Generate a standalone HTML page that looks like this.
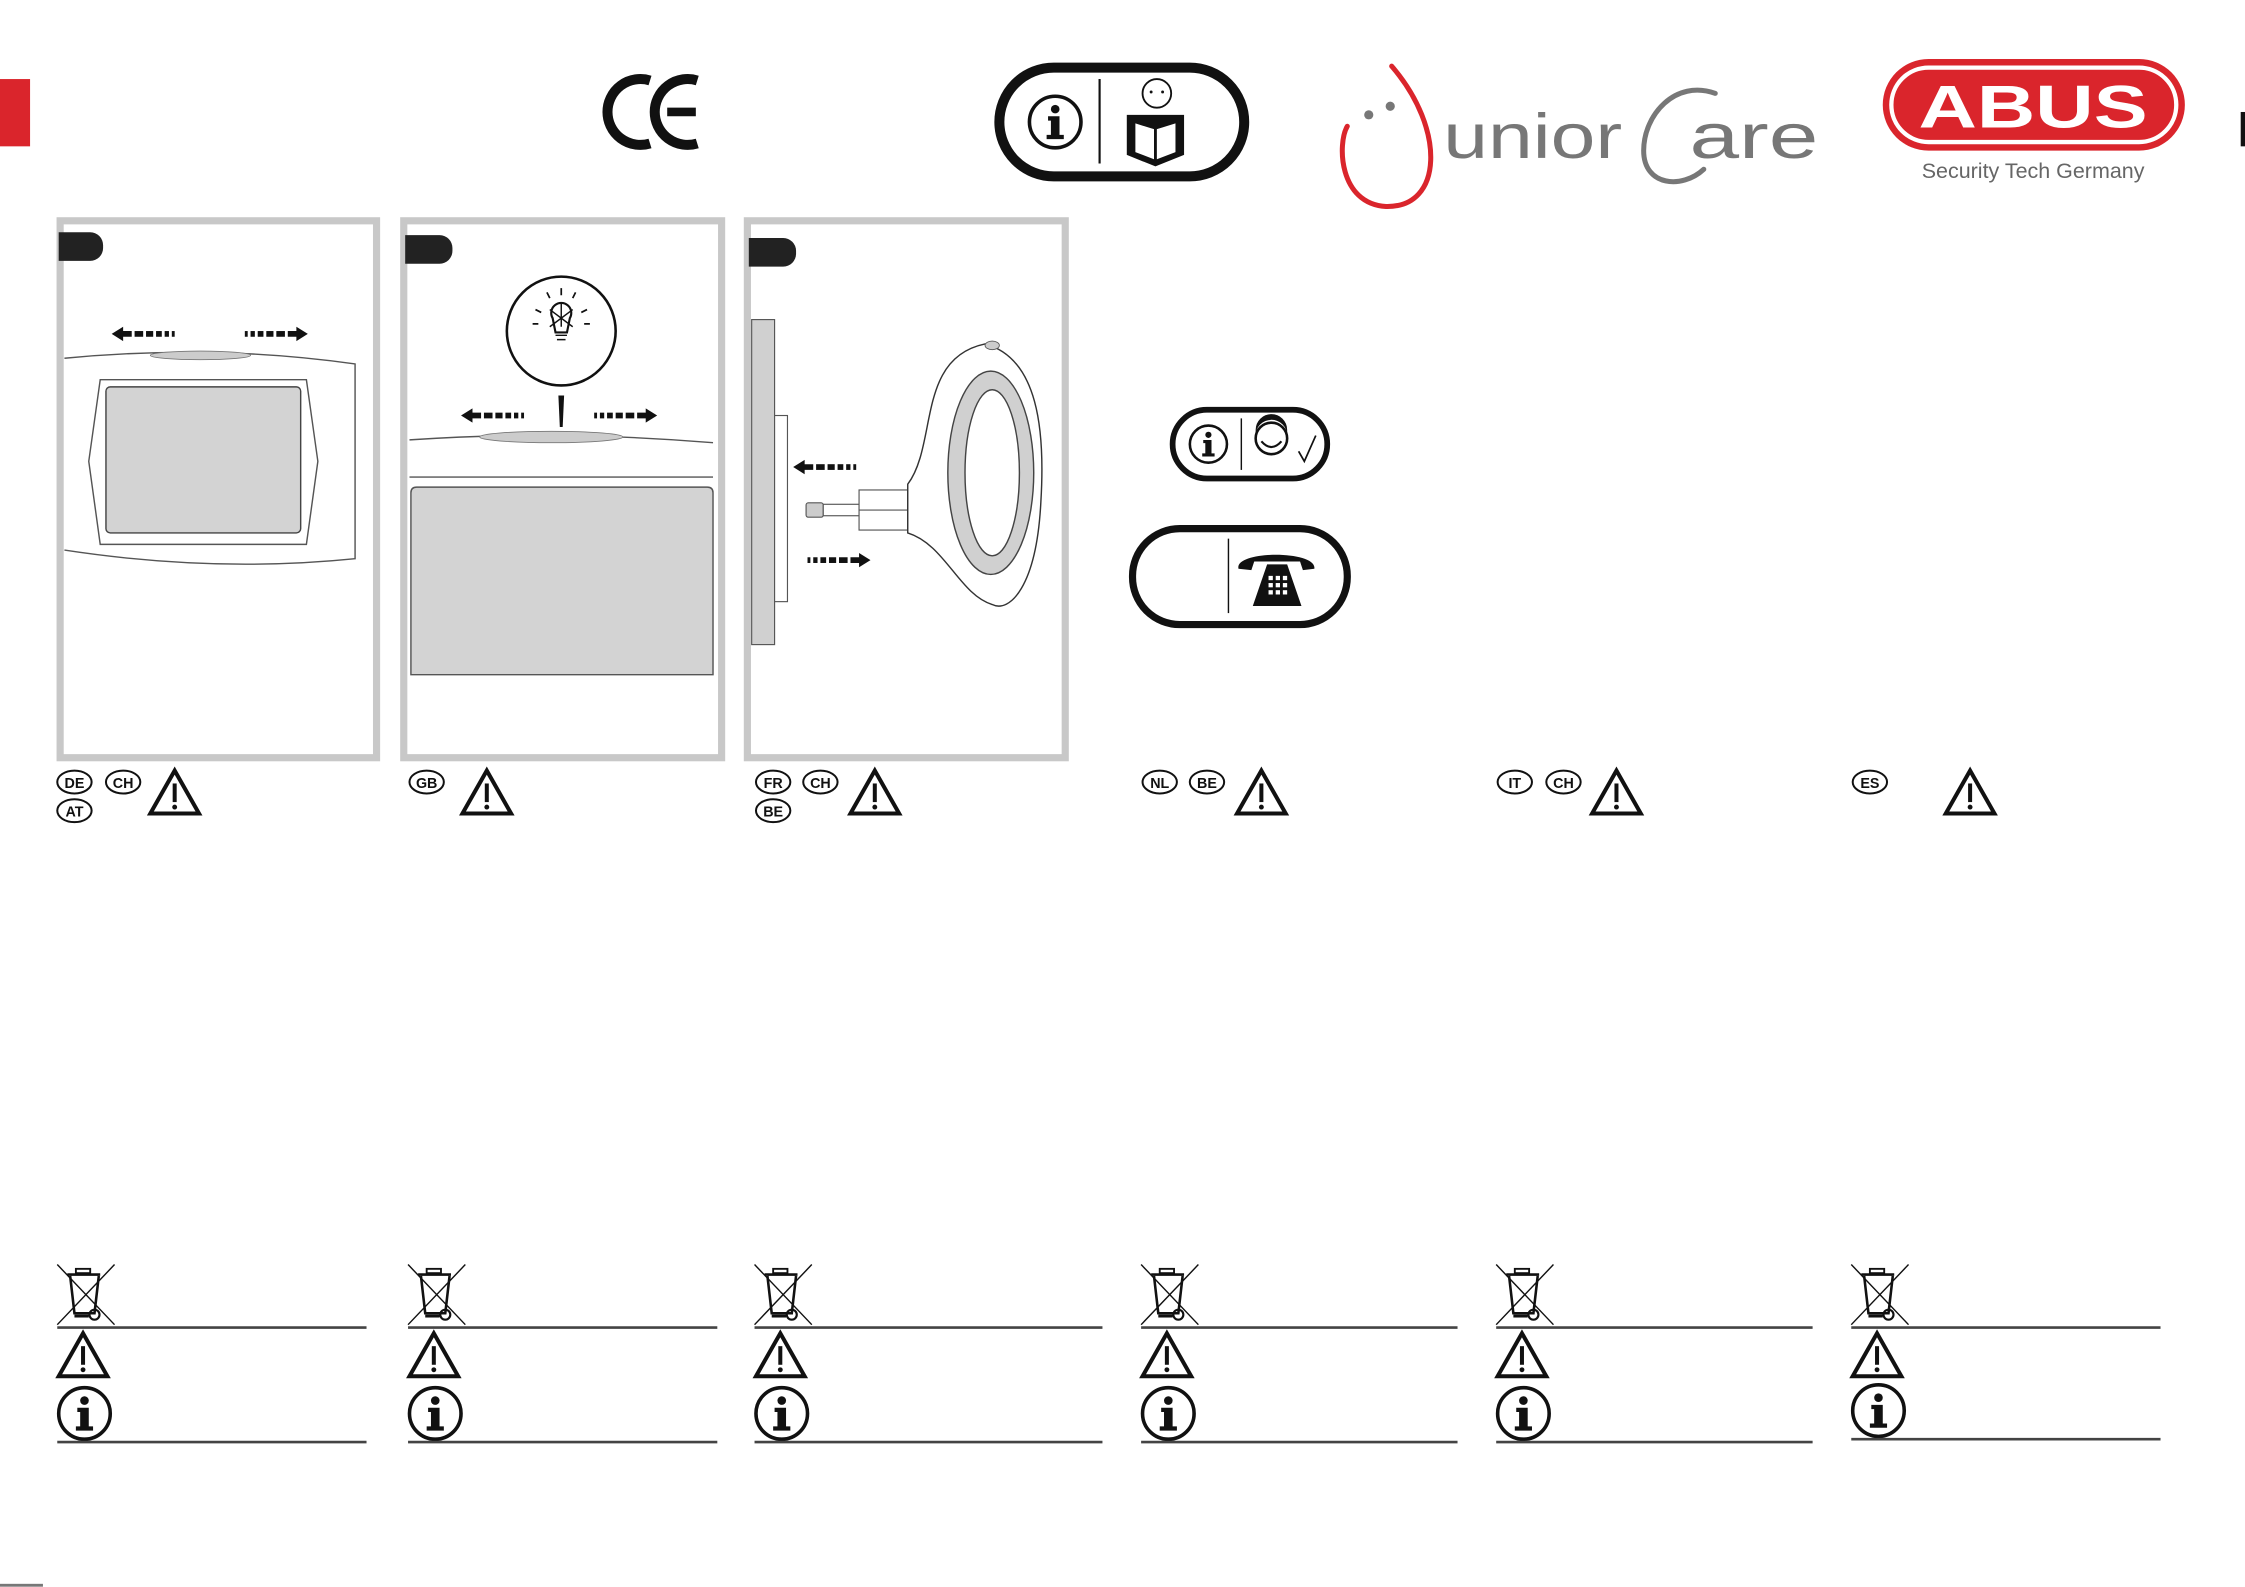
<!DOCTYPE html>
<html><head><meta charset="utf-8"><style>
html,body{margin:0;padding:0;background:#fff;}
svg{display:block;}
text{font-family:"Liberation Sans",sans-serif;}
</style></head><body>
<svg width="2245" height="1587" viewBox="0 0 1568 1108" xmlns="http://www.w3.org/2000/svg">
<defs>
<g id="warn"><path d="M0,30 L17,0 L34,30 Z" fill="none" stroke="#111" stroke-width="2.8" stroke-linejoin="miter"/><rect x="15.6" y="9" width="2.8" height="13" fill="#111"/><circle cx="17" cy="25.5" r="1.7" fill="#111"/></g>
<g id="info"><circle cx="0" cy="0" r="18" fill="none" stroke="#111" stroke-width="2.5"/><circle cx="0" cy="-9" r="3" fill="#111"/><path d="M-5,-4 L3,-4 L3,9 L6,9 L6,12 L-6,12 L-6,9 L-3,9 L-3,-1 L-5,-1 Z" fill="#111"/></g>
<g id="bin" fill="none" stroke="#111"><line x1="0" y1="0" x2="40" y2="42" stroke-width="1"/><line x1="40" y1="0" x2="0" y2="42" stroke-width="1"/><rect x="13" y="3" width="10" height="3" stroke-width="1.3"/><path d="M7,7 L30,7 M9,8 L12,34 L26,34 L29,8" stroke-width="1.8"/><circle cx="26" cy="35" r="3.5" stroke-width="1.5"/><line x1="12" y1="36" x2="22" y2="36" stroke-width="2"/></g>
<g id="arrL"><path d="M0,0 L8,-5 L8,-2 L14,-2 L14,2 L8,2 L8,5 Z" fill="#111"/><rect x="16" y="-2" width="6" height="4" fill="#111"/><rect x="24" y="-2" width="5" height="4" fill="#111"/><rect x="31" y="-2" width="4" height="4" fill="#111"/><rect x="37" y="-2" width="3" height="4" fill="#111"/><rect x="42" y="-2" width="2" height="4" fill="#111"/></g>
</defs>

<rect x="0" y="55" width="21" height="47" fill="#da252c"/>
<rect x="1565" y="78" width="3" height="24" fill="#111"/>

<path d="M454,56 A23,23 0 1,0 454,100" fill="none" stroke="#111" stroke-width="7"/>
<path d="M487,56 A23,23 0 1,0 487,100" fill="none" stroke="#111" stroke-width="7"/>
<line x1="466" y1="78" x2="486" y2="78" stroke="#111" stroke-width="6"/>

<rect x="698" y="47" width="171" height="76" rx="38" fill="none" stroke="#111" stroke-width="7"/>
<line x1="768" y1="55" x2="768" y2="114" stroke="#111" stroke-width="1.5"/>
<use href="#info" transform="translate(737,85)"/>
<circle cx="808" cy="65" r="10" fill="none" stroke="#111" stroke-width="1.3"/>
<circle cx="804" cy="64" r="1" fill="#111"/><circle cx="812" cy="64" r="1" fill="#111"/>
<path d="M787,80 L827,80 L827,108 L807,116 L787,108 Z" fill="#111"/>
<path d="M793,86 L806,90 L806,111 L793,106 Z M821,86 L808,90 L808,111 L821,106 Z" fill="#fff"/>

<path d="M972,46 C1010,90 1008,145 968,144 C935,142 934,100 941,88" fill="none" stroke="#da252c" stroke-width="3.5" stroke-linecap="round"/>
<circle cx="956" cy="80" r="3.2" fill="#777"/><circle cx="971" cy="74" r="3.2" fill="#777"/>
<text x="1008" y="110" font-size="44" fill="#777" textLength="125" lengthAdjust="spacingAndGlyphs">unior</text>
<path d="M1198,65 C1170,55 1148,80 1148,105 C1148,130 1175,132 1190,118" fill="none" stroke="#777" stroke-width="3.5" stroke-linecap="round"/>
<text x="1180" y="110" font-size="44" fill="#777" textLength="90" lengthAdjust="spacingAndGlyphs">are</text>

<rect x="1315" y="41" width="211" height="64" rx="32" fill="#da252c"/>
<rect x="1321" y="47" width="199" height="52" rx="26" fill="none" stroke="#fff" stroke-width="3"/>
<text x="1420" y="89" font-size="42" font-weight="bold" fill="#fff" text-anchor="middle" font-family="Liberation Serif,serif" textLength="160" lengthAdjust="spacingAndGlyphs">ABUS</text>
<text x="1420" y="124" font-size="15" fill="#666" text-anchor="middle">Security Tech Germany</text>

<g fill="none" stroke="#c8c8c8" stroke-width="5">
<rect x="42" y="154" width="221" height="375"/>
<rect x="282" y="154" width="222" height="375"/>
<rect x="522" y="154" width="222" height="375"/>
</g>
<path d="M41,162 L63,162 A9,9 0 0 1 72,171 L72,173 A9,9 0 0 1 63,182 L41,182 Z" fill="#222"/>
<path d="M283,164 L307,164 A9,9 0 0 1 316,173 L316,175 A9,9 0 0 1 307,184 L283,184 Z" fill="#222"/>
<path d="M523,166 L547,166 A9,9 0 0 1 556,175 L556,177 A9,9 0 0 1 547,186 L523,186 Z" fill="#222"/>

<use href="#arrL" transform="translate(78,233)"/>
<use href="#arrL" transform="translate(215,233) scale(-1,1)"/>
<path d="M45,250 Q150,240 248,254 L248,390 Q150,400 45,384" fill="none" stroke="#555" stroke-width="1"/>
<ellipse cx="140" cy="248" rx="35" ry="3" fill="#ccc" stroke="#777" stroke-width="0.6"/>
<path d="M70,265 L214,265 L222,322 L214,380 L70,380 L62,322 Z" fill="#fff" stroke="#555" stroke-width="1"/>
<rect x="74" y="270" width="136" height="102" rx="3" fill="#d3d3d3" stroke="#444" stroke-width="1"/>

<circle cx="392" cy="231" r="38" fill="#fff" stroke="#111" stroke-width="1.8"/>
<path d="M386,222 A7,7 0 1 1 398,222 L396,232 L388,232 Z" fill="none" stroke="#111" stroke-width="1.5"/>
<path d="M388,234 L396,234 M389,237 L395,237 M384,216 L400,228 M400,216 L384,228 M392,212 L392,228" stroke="#111" stroke-width="1"/>
<path d="M378,218 L374,216 M406,218 L410,216 M384,208 L382,204 M400,208 L402,204 M392,206 L392,201 M376,226 L372,226 M408,226 L412,226" stroke="#111" stroke-width="1.2"/>
<path d="M390,276 L394,276 L393,298 L391,298 Z" fill="#111"/>
<use href="#arrL" transform="translate(322,290)"/>
<use href="#arrL" transform="translate(459,290) scale(-1,1)"/>
<path d="M286,307 Q390,300 498,309" fill="none" stroke="#555" stroke-width="1"/>
<ellipse cx="385" cy="305" rx="50" ry="4" fill="#ccc" stroke="#777" stroke-width="0.6"/>
<line x1="286" y1="333" x2="498" y2="333" stroke="#555" stroke-width="1"/>
<path d="M287,471 L287,344 Q287,340 291,340 L494,340 Q498,340 498,344 L498,471 Z" fill="#d3d3d3" stroke="#555" stroke-width="1"/>

<rect x="525" y="223" width="16" height="227" fill="#d0d0d0" stroke="#555" stroke-width="0.8"/>
<rect x="541" y="290" width="9" height="130" fill="#fff" stroke="#555" stroke-width="0.8"/>
<use href="#arrL" transform="translate(554,326)"/>
<use href="#arrL" transform="translate(608,391) scale(-1,1)"/>
<rect x="563" y="351" width="12" height="10" rx="1.5" fill="#ccc" stroke="#555" stroke-width="0.8"/>
<rect x="575" y="352" width="25" height="8" fill="#fff" stroke="#555" stroke-width="0.8"/>
<rect x="600" y="342" width="34" height="28" fill="#fff" stroke="#555" stroke-width="0.8"/>
<line x1="600" y1="356" x2="634" y2="356" stroke="#555" stroke-width="0.8"/>
<path d="M634,338 C655,310 640,250 688,240 C725,250 730,300 727,350 C724,410 705,428 693,422 C670,415 660,380 634,372 Z" fill="#fff" stroke="#333" stroke-width="1"/>
<ellipse cx="693" cy="241" rx="5" ry="3" fill="#ccc" stroke="#555" stroke-width="0.6"/>
<ellipse cx="692" cy="330" rx="30" ry="71" fill="#d0d0d0" stroke="#444" stroke-width="1"/>
<ellipse cx="693" cy="330" rx="19" ry="58" fill="#fff" stroke="#444" stroke-width="1"/>

<rect x="819" y="286" width="108" height="48" rx="24" fill="none" stroke="#111" stroke-width="4"/>
<line x1="867" y1="292" x2="867" y2="328" stroke="#111" stroke-width="1"/>
<use href="#info" transform="translate(844,310) scale(0.72)"/>
<circle cx="888" cy="306" r="11" fill="none" stroke="#111" stroke-width="1.8"/>
<path d="M877,304 A11,11 0 0 1 899,304 L899,300 A11,11 0 0 0 877,300 Z" fill="#111"/>
<path d="M881,308 Q888,316 895,308" fill="none" stroke="#111" stroke-width="1.5"/>
<path d="M907,315 L911,322 L919,304" fill="none" stroke="#111" stroke-width="1.2"/>
<rect x="791" y="369" width="150" height="67" rx="33" fill="none" stroke="#111" stroke-width="5"/>
<line x1="858" y1="376" x2="858" y2="428" stroke="#111" stroke-width="1"/>
<path d="M865,397 C862,384 920,384 918,397 L910,398 L908,392 L876,392 L874,398 Z" fill="#111"/>
<path d="M885,394 L899,394 L909,423 L875,423 Z" fill="#111"/>
<g fill="#fff"><rect x="886" y="402" width="3" height="3"/><rect x="891" y="402" width="3" height="3"/><rect x="896" y="402" width="3" height="3"/><rect x="886" y="407" width="3" height="3"/><rect x="891" y="407" width="3" height="3"/><rect x="896" y="407" width="3" height="3"/><rect x="886" y="412" width="3" height="3"/><rect x="891" y="412" width="3" height="3"/><rect x="896" y="412" width="3" height="3"/></g>

<g font-size="10" font-weight="bold" text-anchor="middle" fill="#111">
<g fill="none" stroke="#111" stroke-width="1.4">
<ellipse cx="52" cy="546" rx="12" ry="8"/><ellipse cx="86" cy="546" rx="12" ry="8"/><ellipse cx="52" cy="566" rx="12" ry="8"/>
<ellipse cx="298" cy="546" rx="12" ry="8"/>
<ellipse cx="540" cy="546" rx="12" ry="8"/><ellipse cx="573" cy="546" rx="12" ry="8"/><ellipse cx="540" cy="566" rx="12" ry="8"/>
<ellipse cx="810" cy="546" rx="12" ry="8"/><ellipse cx="843" cy="546" rx="12" ry="8"/>
<ellipse cx="1058" cy="546" rx="12" ry="8"/><ellipse cx="1092" cy="546" rx="12" ry="8"/>
<ellipse cx="1306" cy="546" rx="12" ry="8"/>
</g>
<text x="52" y="550">DE</text><text x="86" y="550">CH</text><text x="52" y="570">AT</text>
<text x="298" y="550">GB</text>
<text x="540" y="550">FR</text><text x="573" y="550">CH</text><text x="540" y="570">BE</text>
<text x="810" y="550">NL</text><text x="843" y="550">BE</text>
<text x="1058" y="550">IT</text><text x="1092" y="550">CH</text>
<text x="1306" y="550">ES</text>
</g>
<use href="#warn" transform="translate(105,538)"/>
<use href="#warn" transform="translate(323,538)"/>
<use href="#warn" transform="translate(594,538)"/>
<use href="#warn" transform="translate(864,538)"/>
<use href="#warn" transform="translate(1112,538)"/>
<use href="#warn" transform="translate(1359,538)"/>

<g>
<use href="#bin" transform="translate(40,883)"/><use href="#bin" transform="translate(285,883)"/><use href="#bin" transform="translate(527,883)"/><use href="#bin" transform="translate(797,883)"/><use href="#bin" transform="translate(1045,883)"/><use href="#bin" transform="translate(1293,883)"/>
<use href="#warn" transform="translate(41,931)"/><use href="#warn" transform="translate(286,931)"/><use href="#warn" transform="translate(528,931)"/><use href="#warn" transform="translate(798,931)"/><use href="#warn" transform="translate(1046,931)"/><use href="#warn" transform="translate(1294,931)"/>
<use href="#info" transform="translate(59,987)"/><use href="#info" transform="translate(304,987)"/><use href="#info" transform="translate(546,987)"/><use href="#info" transform="translate(816,987)"/><use href="#info" transform="translate(1064,987)"/><use href="#info" transform="translate(1312,985)"/>
</g>
<g stroke="#444" stroke-width="1.8">
<line x1="40" y1="927" x2="256" y2="927"/><line x1="285" y1="927" x2="501" y2="927"/><line x1="527" y1="927" x2="770" y2="927"/><line x1="797" y1="927" x2="1018" y2="927"/><line x1="1045" y1="927" x2="1266" y2="927"/><line x1="1293" y1="927" x2="1509" y2="927"/>
<line x1="40" y1="1007" x2="256" y2="1007"/><line x1="285" y1="1007" x2="501" y2="1007"/><line x1="527" y1="1007" x2="770" y2="1007"/><line x1="797" y1="1007" x2="1018" y2="1007"/><line x1="1045" y1="1007" x2="1266" y2="1007"/><line x1="1293" y1="1005" x2="1509" y2="1005"/>
</g>
<rect x="0" y="1106" width="30" height="2" fill="#777"/>
</svg>
</body></html>
